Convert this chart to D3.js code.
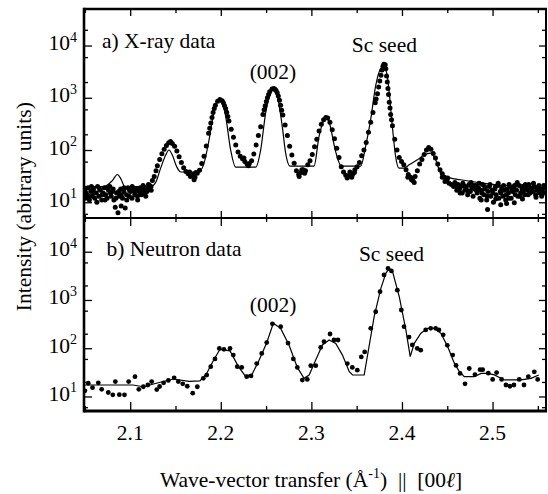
<!DOCTYPE html>
<html><head><meta charset="utf-8">
<script src="https://cdn.jsdelivr.net/npm/d3@7"></script>
<style>
body{margin:0;background:#fff}
svg{display:block}
text{font-family:"Liberation Serif","DejaVu Serif","Times New Roman",serif;fill:#000}
</style>
</head><body>
<svg id="c" width="548" height="494"></svg>
<script>
// ---------- data ----------
const xrayData = [
[2.050,17],[2.0505,12],[2.052,14],[2.0535,19],[2.055,11],[2.0565,16],[2.058,13],[2.0595,18],[2.061,12],[2.0625,15],
[2.064,20],[2.0655,13],[2.067,17],[2.0685,11],[2.070,15],[2.0715,19],[2.073,14],[2.0745,12],[2.076,17],[2.0775,20],
[2.079,13],[2.0805,16],[2.082,11],[2.0835,8],[2.085,15],[2.0865,6.3],[2.088,13],[2.0895,18],[2.090,8.5],[2.0915,12],
[2.093,16],[2.0945,7.8],[2.096,14],[2.0975,19],[2.099,13],[2.1005,16],[2.102,12],[2.1035,17],[2.105,14],[2.1065,18],
[2.108,13],[2.1095,16],[2.111,19],[2.1125,14],[2.114,17],[2.1155,15],[2.117,19],[2.1185,16],[2.120,18],[2.1215,21],
[2.123,20],[2.1245,26],[2.1265,31],[2.1285,40],[2.130,50],[2.1325,66],[2.135,85],[2.1375,104],[2.140,122],[2.1425,138],
[2.1445,145],[2.1465,134],[2.149,118],[2.1515,96],[2.154,74],[2.1565,58],[2.159,46],[2.1615,39],[2.164,35],[2.1665,31],
[2.169,34],[2.1715,30],[2.174,36],[2.1765,41],[2.179,55],[2.1815,76],[2.184,120],[2.1865,210],[2.1878,260],[2.189,330],
[2.1903,420],[2.1915,520],[2.1928,620],[2.194,720],[2.1965,860],[2.199,930],[2.2015,880],[2.2028,800],[2.204,710],[2.2053,620],
[2.2065,530],[2.2078,440],[2.209,360],[2.2115,250],[2.214,175],[2.2165,125],[2.219,92],[2.2215,76],[2.224,68],[2.2265,60],
[2.229,54],[2.2315,55],[2.234,62],[2.2365,84],[2.239,125],[2.2415,190],[2.244,280],[2.2465,480],[2.2478,590],[2.249,700],
[2.2503,850],[2.2515,1000],[2.2528,1150],[2.254,1300],[2.2565,1480],[2.2585,1500],[2.2598,1460],[2.261,1380],[2.2623,1250],[2.2635,1080],
[2.2648,900],[2.266,720],[2.2672,580],[2.2685,470],[2.271,300],[2.2735,190],[2.276,118],[2.2785,80],[2.281,56],[2.2835,40],
[2.286,34],[2.2885,37],[2.291,42],[2.2935,40],[2.296,52],[2.2985,62],[2.301,82],[2.3035,115],[2.306,160],[2.3085,230],
[2.311,310],[2.3135,380],[2.316,420],[2.318,410],[2.3205,340],[2.323,245],[2.3255,165],[2.328,108],[2.3305,72],[2.333,48],
[2.3355,38],[2.338,33],[2.3405,32],[2.343,35],[2.3455,34],[2.348,42],[2.3505,48],[2.353,58],[2.3555,78],[2.358,100],
[2.3605,140],[2.363,220],[2.3655,340],[2.368,520],[2.3705,800],[2.3715,950],[2.373,1200],[2.3743,1600],[2.3755,2100],[2.3768,2700],
[2.378,3400],[2.379,4000],[2.380,4400],[2.3815,4300],[2.3822,3600],[2.383,2600],[2.3838,2000],[2.3845,1500],[2.3852,1150],[2.386,820],
[2.3868,640],[2.3875,480],[2.3885,380],[2.3895,290],[2.392,160],[2.3945,100],[2.397,72],[2.3995,60],[2.402,52],[2.4045,42],
[2.407,34],[2.4095,30],[2.412,26],[2.4145,31],[2.417,40],[2.4195,54],[2.422,66],[2.4245,82],[2.427,100],[2.4295,112],
[2.432,104],[2.4345,86],[2.437,70],[2.4395,54],[2.442,42],[2.4445,35],[2.447,30],[2.4495,26],[2.452,23],[2.4545,22],
[2.457,20],[2.459,21],[2.4605,17],[2.462,22],[2.4635,18],[2.465,20],[2.4665,15],[2.468,21],[2.4695,17],[2.471,19],
[2.4725,14],[2.474,22],[2.4755,16],[2.477,19],[2.4785,13],[2.480,18],[2.4815,21],[2.483,15],[2.4845,19],[2.486,12],
[2.4875,17],[2.489,22],[2.4905,14],[2.492,18],[2.4935,11],[2.4945,7.3],[2.495,16],[2.4965,20],[2.498,13],[2.4995,17],
[2.501,10],[2.5025,18],[2.504,14],[2.5055,21],[2.507,12],[2.5085,16],[2.509,9],[2.510,19],[2.5115,13],[2.513,17],
[2.5145,11],[2.5155,9.5],[2.516,18],[2.5175,15],[2.519,20],[2.5205,12],[2.522,16],[2.5235,19],[2.524,9.8],[2.525,14],
[2.5265,17],[2.528,13],[2.5295,21],[2.531,15],[2.5325,18],[2.534,16],[2.5355,14],[2.537,19],[2.5385,17],[2.540,22],
[2.5415,15],[2.543,18],[2.5445,16],[2.546,20],[2.5475,14],[2.549,17],[2.5505,19],[2.552,15],[2.5535,18],[2.555,16],
[2.5565,21],[2.558,15],
// second band of scatter in the tails and valleys
[2.0512,15],[2.0542,13],[2.0572,20],[2.0602,15],[2.0632,10],[2.0662,18],[2.0692,14],[2.0722,11],[2.0752,19],[2.0782,15],
[2.0812,18],[2.0842,12],[2.0872,16],[2.0902,14],[2.0932,19],[2.0962,11],[2.0992,17],[2.1022,20],[2.1052,16],[2.1082,11],
[2.1112,15],[2.1142,21],[2.1172,13],[2.1202,22],[2.1232,17],
[2.1655,38],[2.1705,27],[2.1725,37],[2.2255,70],[2.2305,50],[2.2865,31],[2.2895,42],[2.2925,36],[2.3395,29],[2.3425,38],
[2.3445,30],[2.3475,37],[2.4065,30],[2.4105,27],[2.4135,24],[2.4445,30],[2.4475,25],[2.4505,29],
[2.4585,24],[2.4612,19],[2.4642,15],[2.4672,23],[2.4702,20],[2.4732,16],[2.4762,24],[2.4792,21],[2.4822,17],[2.4852,23],
[2.4882,15],[2.4912,20],[2.4942,13],[2.4972,22],[2.5002,15],[2.5032,20],[2.5062,23],[2.5092,15],[2.5122,21],[2.5152,14],
[2.5182,22],[2.5212,17],[2.5242,21],[2.5272,24],[2.5302,13],[2.5332,20],[2.5362,22],[2.5392,14],[2.5422,19],[2.5452,23],
[2.5482,19],[2.5512,21],[2.5542,13],[2.5572,19],[2.4875,11],[2.5035,11.5],[2.518,12],[2.533,11.5],[2.548,12.5]
];
const xrayFit = [
[2.049,20],[2.071,20],[2.0803,26],[2.0858,34],[2.0902,27],[2.0939,20],[2.1226,20],[2.1281,24],[2.1336,45],[2.1392,80],
[2.1428,100],[2.1465,80],[2.1513,48],[2.1557,38],[2.1759,38],[2.1815,56],[2.187,155],[2.1925,540],[2.198,900],[2.2017,850],
[2.2054,440],[2.2109,100],[2.2164,47],[2.2385,47],[2.244,100],[2.2495,510],[2.255,1290],[2.258,1500],[2.2617,1220],[2.2679,280],
[2.2716,87],[2.2764,49],[2.3029,49],[2.3084,180],[2.3139,376],[2.3165,423],[2.3194,350],[2.3268,93],[2.3331,49],[2.3544,49],
[2.360,120],[2.3654,376],[2.371,1700],[2.3765,3600],[2.3802,3940],[2.3839,2530],[2.3894,280],[2.393,75],[2.3968,45],[2.4023,45],
[2.4079,52],[2.417,65],[2.4243,80],[2.4317,87],[2.4372,65],[2.4427,36],[2.4482,31],[2.4648,27],[2.4906,23],[2.5273,20],[2.559,19]
];
const neutronData = [
[2.050,13.1],[2.0537,18.8],[2.0584,15.2],[2.0648,19.2],[2.0685,14.1],[2.0758,12.1],[2.0808,10.8],[2.0836,20.4],[2.088,10.9],[2.0937,10.8],
[2.0983,20.4],[2.1053,25.7],[2.1095,14.1],[2.1145,15.9],[2.1195,17.3],[2.1237,20.4],[2.1293,13.9],[2.1325,16.1],[2.1369,19.2],[2.1421,21.5],
[2.1485,24.4],[2.1531,20.4],[2.158,18.3],[2.163,16.3],[2.169,11.7],[2.1741,15.9],[2.1807,23.8],[2.1845,27.8],[2.1889,41.5],[2.1936,60],
[2.1984,99],[2.2035,95],[2.2102,99],[2.2138,72],[2.2182,41.5],[2.2231,40],[2.2286,25.7],[2.2334,26.6],[2.2397,48],[2.2452,78],
[2.2507,131],[2.257,320],[2.2661,280],[2.2742,128],[2.2801,60],[2.2845,40],[2.290,21.9],[2.2955,22.6],[2.2993,43.5],[2.3048,43.5],
[2.3103,104],[2.3139,137],[2.3206,197],[2.325,148],[2.3294,148],[2.3397,48],[2.3452,40],[2.3507,35],[2.3551,66],[2.3588,84],
[2.3655,258],[2.371,570],[2.3758,1480],[2.3802,3300],[2.3846,4500],[2.3883,4000],[2.3949,1600],[2.3993,620],[2.4023,280],[2.4078,170],
[2.4114,117],[2.4169,99],[2.4207,91],[2.4262,240],[2.4317,258],[2.4372,258],[2.4408,240],[2.4455,190],[2.4501,115],[2.456,72],
[2.4597,44],[2.4641,30],[2.4696,18.3],[2.4743,38],[2.4806,28.4],[2.4862,36],[2.4891,36],[2.4953,30.4],[2.5001,22.6],[2.5045,31.3],
[2.510,22.6],[2.5148,17.3],[2.5192,16.3],[2.5236,17.3],[2.5295,22.6],[2.5347,17.3],[2.5395,25.7],[2.5461,32.5],[2.5498,22.6]
];
const neutronFit = [
[2.049,17.3],[2.103,17.3],[2.1145,15.9],[2.130,19],[2.1476,23],[2.165,20.5],[2.177,21],[2.1844,30],[2.1917,55],[2.1991,95],
[2.2102,88],[2.2193,42],[2.2267,27],[2.2341,28],[2.2414,52],[2.2507,130],[2.258,330],[2.2661,258],[2.2753,117],[2.2845,40],
[2.2919,23.8],[2.2975,27.9],[2.3048,57],[2.3122,117],[2.3196,148],[2.3269,126],[2.3343,72],[2.3417,33],[2.3454,27.9],[2.3583,27.9],
[2.3693,450],[2.3767,1746],[2.3822,3570],[2.3859,4530],[2.3896,3860],[2.397,1170],[2.4043,239],[2.4091,67],[2.4136,126],[2.4209,204],
[2.4283,259],[2.4357,259],[2.443,204],[2.4504,108],[2.4578,49],[2.4633,33],[2.4688,25.7],[2.4799,25.7],[2.4872,30],[2.4946,30],
[2.502,28],[2.513,22],[2.5314,22],[2.5425,23.8],[2.551,27.9]
];
const xMajorTicks = [2.1,2.2,2.3,2.4,2.5];
const xMinorTicks = [2.05,2.15,2.25,2.35,2.45,2.55];
const xTickLabels = ["2.1","2.2","2.3","2.4","2.5"];
const yMajorTicks = [1e1,1e2,1e3,1e4];
const yMinorTicks = [6,20,60,200,600,2000,6000,20000];
const yTickExponents = ["1","2","3","4"];
const panelLabels = ["a) X-ray data","b) Neutron data"];

// ---------- layout ----------
const L=84, R=546, T=9, M=218, B=411;
const FS = 21.5;
const svg = d3.select("#c");
const x = d3.scaleLinear().domain([2.049,2.559]).range([L,R]);
const yA = d3.scaleLog().domain([5,5e4]).range([M,T]);
const yB = d3.scaleLog().domain([5,5e4]).range([B,M]);

const defs = svg.append("defs");
defs.append("clipPath").attr("id","clipA").append("rect").attr("x",L).attr("y",T).attr("width",R-L).attr("height",M-T);
defs.append("clipPath").attr("id","clipB").append("rect").attr("x",L).attr("y",M).attr("width",R-L).attr("height",B-M);

function drawPanel(y, data, fit, clip, curve, r){
  const g = svg.append("g").attr("clip-path",`url(#${clip})`);
  g.append("path").datum(fit)
    .attr("d", d3.line().x(d=>x(d[0])).y(d=>y(d[1])).curve(curve))
    .attr("fill","none").attr("stroke","#000").attr("stroke-width",1.2);
  g.selectAll("circle").data(data).join("circle")
    .attr("cx",d=>x(d[0])).attr("cy",d=>y(d[1])).attr("r",r).attr("fill","#000");
}
drawPanel(yA, xrayData, xrayFit, "clipA", d3.curveMonotoneX, 2.5);
drawPanel(yB, neutronData, neutronFit, "clipB", d3.curveLinear, 2.4);

// ---------- ticks ----------
function tickGroup(axis, tx, ty){
  svg.append("g").attr("transform",`translate(${tx},${ty})`).call(axis)
    .call(g=>{g.select(".domain").remove(); g.selectAll("line").attr("stroke","#000").attr("stroke-width",1.3); g.selectAll("text").remove();});
}
[yA,yB].forEach(y=>{
  tickGroup(d3.axisRight(y).tickValues(yMajorTicks).tickSize(8), L, 0);
  tickGroup(d3.axisRight(y).tickValues(yMinorTicks).tickSize(4), L, 0);
  tickGroup(d3.axisLeft(y).tickValues(yMajorTicks).tickSize(7), R, 0);
  tickGroup(d3.axisLeft(y).tickValues(yMinorTicks).tickSize(4), R, 0);
});
tickGroup(d3.axisBottom(x).tickValues(xMajorTicks).tickSize(7), 0, T);
tickGroup(d3.axisBottom(x).tickValues(xMinorTicks).tickSize(4), 0, T);
tickGroup(d3.axisTop(x).tickValues(xMajorTicks).tickSize(7), 0, M);
tickGroup(d3.axisTop(x).tickValues(xMinorTicks).tickSize(4), 0, M);
tickGroup(d3.axisBottom(x).tickValues(xMajorTicks).tickSize(8), 0, M);
tickGroup(d3.axisBottom(x).tickValues(xMinorTicks).tickSize(4), 0, M);
tickGroup(d3.axisTop(x).tickValues(xMajorTicks).tickSize(9), 0, B);
tickGroup(d3.axisTop(x).tickValues(xMinorTicks).tickSize(5), 0, B);

// ---------- frame ----------
const frame = svg.append("g").attr("stroke","#000").attr("fill","none");
frame.append("line").attr("x1",L).attr("x2",L).attr("y1",T-1.2).attr("y2",B+1.4).attr("stroke-width",2.6);
frame.append("line").attr("x1",L).attr("x2",R+1).attr("y1",T).attr("y2",T).attr("stroke-width",2.4);
frame.append("line").attr("x1",R).attr("x2",R).attr("y1",T).attr("y2",B).attr("stroke-width",2);
frame.append("line").attr("x1",L).attr("x2",R).attr("y1",M).attr("y2",M).attr("stroke-width",2);
frame.append("line").attr("x1",L).attr("x2",R+1).attr("y1",B).attr("y2",B).attr("stroke-width",2.8);

// ---------- tick labels ----------
[yA,yB].forEach(y=>{
  yMajorTicks.forEach((v,i)=>{
    const t = svg.append("text").attr("x",77).attr("y",y(v)+4.5).attr("text-anchor","end").attr("font-size",FS);
    t.append("tspan").text("10");
    t.append("tspan").attr("dy",-8.5).attr("font-size",14).text(yTickExponents[i]);
  });
});
xMajorTicks.forEach((v,i)=>{
  svg.append("text").attr("x",x(v)).attr("y",439.5).attr("text-anchor","middle").attr("font-size",FS).text(xTickLabels[i]);
});

// ---------- annotations ----------
svg.append("text").attr("x",102).attr("y",48).attr("font-size",FS).text(panelLabels[0]);
svg.append("text").attr("x",106.5).attr("y",256.4).attr("font-size",FS).text(panelLabels[1]);
svg.append("text").attr("x",x(2.2576)).attr("y",78.5).attr("text-anchor","middle").attr("font-size",FS).text("(002)");
svg.append("text").attr("x",x(2.3806)).attr("y",51.5).attr("text-anchor","middle").attr("font-size",FS).text("Sc seed");
svg.append("text").attr("x",x(2.2577)).attr("y",311.5).attr("text-anchor","middle").attr("font-size",FS).text("(002)");
svg.append("text").attr("x",x(2.3884)).attr("y",261).attr("text-anchor","middle").attr("font-size",FS).text("Sc seed");

// ---------- axis titles ----------
svg.append("text").attr("transform","translate(31,206.7) rotate(-90)").attr("text-anchor","middle")
  .attr("font-size",FS).text("Intensity (abitrary units)");
const xt = svg.append("text").attr("x",311).attr("y",486.5).attr("text-anchor","middle").attr("font-size",FS)
  .style("white-space","pre");
xt.append("tspan").text("Wave-vector transfer (Å");
xt.append("tspan").attr("dy",-8.5).attr("font-size",14).text("-1");
xt.append("tspan").attr("dy",8.5).text(")  ||  [00");
xt.append("tspan").attr("font-style","italic").text("ℓ");
xt.append("tspan").text("]");
</script>
</body></html>
